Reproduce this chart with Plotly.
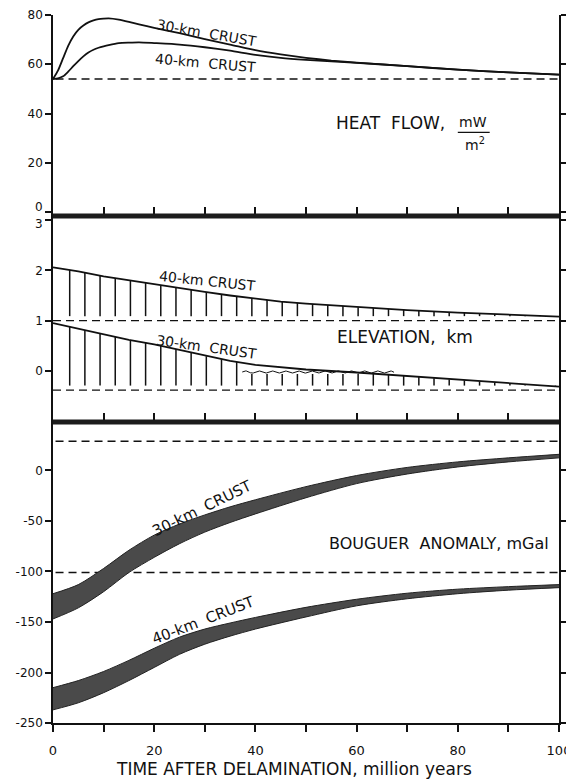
import numpy as np
import plotly.graph_objects as go

# ---------------- data ----------------
# Heat flow, mW/m^2
hf_t = [0, 1, 2, 3, 4, 5, 6, 7, 8, 9, 10, 11, 13, 15, 17, 20, 25, 30, 35, 40, 45, 50, 55, 60, 70, 80, 90, 100]
hf_30km = [54, 57.5, 62.5, 67.5, 71.3, 74, 75.7, 77, 77.8, 78.3, 78.5, 78.6, 78.1, 77.2, 76.2, 74.8, 72.6, 70.2,
           68, 65.7, 64, 62.6, 61.5, 60.7, 59.2, 57.8, 56.7, 55.8]
hf_40km = [54, 54.3, 55.1, 57, 59.2, 61.3, 63.2, 64.8, 65.9, 66.7, 67.3, 67.8, 68.6, 68.8, 68.9, 68.6, 68, 66.9,
           65.5, 63.8, 62.6, 61.8, 61.2, 60.6, 59.2, 57.8, 56.7, 55.8]
hf_ref = 54

# Elevation, km
el_t = [0, 5, 10, 15, 20, 25, 30, 35, 40, 45, 50, 60, 70, 80, 90, 100]
el_40km = [2.06, 1.98, 1.88, 1.80, 1.72, 1.64, 1.57, 1.50, 1.44, 1.38, 1.34, 1.27, 1.21, 1.16, 1.12, 1.08]
el_30km = [0.95, 0.84, 0.72, 0.62, 0.53, 0.42, 0.30, 0.20, 0.12, 0.07, 0.03, -0.03, -0.10, -0.18, -0.25, -0.31]
el_ref_40km = 1.0
el_ref_30km = -0.38
el_hatch_base_40km = 1.09
el_hatch_base_30km = -0.29
sea_level = -0.02
sea_t_start, sea_t_end = 37.4, 67.4

# Bouguer anomaly, mGal
bg_t = [0, 5, 10, 15, 20, 25, 30, 35, 40, 50, 60, 70, 80, 90, 100]
bg30_upper = [-122, -113, -97, -79, -64, -53, -44, -36, -29, -16, -5, 3, 8.5, 12.5, 16]
bg30_lower = [-147, -136, -120, -101, -86, -72.5, -61, -51.5, -43, -27, -13, -3.5, 3.5, 8.5, 12.5]
bg40_upper = [-215, -208, -199, -188, -176, -165, -157, -151, -145.5, -135.5, -127.5, -121.5, -117.5, -115, -113]
bg40_lower = [-237, -230, -220, -208, -195, -182, -172, -164, -157, -145, -134, -127, -122, -118.5, -116]
bg_ref_upper = 29
bg_ref_lower = -101

x_ticks = [0, 20, 40, 60, 80, 100]
x_ticktext = ["0", "20", "40", "60", "80", "100"]
x_inner_ticks = [10, 20, 30, 40, 50, 60, 70, 80, 90]
hf_ticks = [20, 40, 60, 80]
hf_break_tick = 0
el_ticks = [0, 1, 2]
el_break_tick = 3
bg_ticks = [-250, -200, -150, -100, -50, 0]
bg_ticktext = ["-250", "-200", "-150", "-100", "-50", "0"]

# ---------------- figure ----------------
FONT = "DejaVu Sans"
BLACK = "#111111"
fig = go.Figure()

def line(x, y, xa, ya, dash=None, width=1.8):
    fig.add_trace(go.Scatter(x=x, y=y, xaxis=xa, yaxis=ya, mode="lines",
                             line=dict(color=BLACK, width=width, dash=dash),
                             hoverinfo="skip", showlegend=False))

# panel 1: heat flow (top) -> x3/y3
line([0.5, 100], [hf_ref, hf_ref], "x3", "y3", dash="8px,5px", width=1.4)
for series in (hf_30km, hf_40km):
    fig.add_trace(go.Scatter(x=hf_t, y=series, xaxis="x3", yaxis="y3", mode="lines",
                             line=dict(color=BLACK, width=1.8, shape="spline", smoothing=0.6),
                             showlegend=False, hoverinfo="skip"))

# panel 2: elevation -> x2/y2
hatch_t = [3.3 + 3.0 * k for k in range(33)]
line([0, 100], [el_ref_40km, el_ref_40km], "x2", "y2", dash="8px,5px", width=1.4)
line([0, 100], [el_ref_30km, el_ref_30km], "x2", "y2", dash="8px,5px", width=1.4)
line(el_t, el_40km, "x2", "y2")
line(el_t, el_30km, "x2", "y2")
hx, hy = [], []
for t in hatch_t:
    top40 = float(np.interp(t, el_t, el_40km))
    hx += [t, t, None]
    hy += [el_hatch_base_40km, top40, None]
    top30 = float(np.interp(t, el_t, el_30km))
    if sea_t_start <= t <= sea_t_end:
        top30 = min(top30, sea_level - 0.04)
    hx += [t, t, None]
    hy += [el_hatch_base_30km, top30, None]
line(hx, hy, "x2", "y2", width=1.5)
# sea-level wavy symbol
wt = np.linspace(sea_t_start, sea_t_end, 300)
wy = sea_level + 0.022 * np.sin(2 * np.pi * (wt - sea_t_start) / 2.6)
line(wt, wy, "x2", "y2", width=1.0)

# panel 3: Bouguer anomaly -> x/y
line([0.5, 100], [bg_ref_upper, bg_ref_upper], "x", "y", dash="8px,5px", width=1.4)
line([0.5, 100], [bg_ref_lower, bg_ref_lower], "x", "y", dash="8px,5px", width=1.4)
for lo, up in [(bg30_lower, bg30_upper), (bg40_lower, bg40_upper)]:
    fig.add_trace(go.Scatter(x=bg_t, y=lo, mode="lines",
                             line=dict(color="#222222", width=1, shape="spline", smoothing=0.8),
                             showlegend=False, hoverinfo="skip"))
    fig.add_trace(go.Scatter(x=bg_t, y=up, mode="lines",
                             line=dict(color="#222222", width=1, shape="spline", smoothing=0.8),
                             fill="tonexty", fillcolor="#4a4a4a", showlegend=False, hoverinfo="skip"))

# ---------------- layout ----------------
# the page body adds an 8px offset; work in screen pixels
OFF = 8
FIG_W, FIG_H = 574 - OFF, 781 - OFF
TOP, BOT, LEFT, RIGHT = 15, 723, 53, 559   # screen pixels of the plot area
plot_h = BOT - TOP
plot_w = RIGHT - LEFT

def py(p):  # screen pixel y -> paper
    return (BOT - p) / plot_h

def px(p):  # screen pixel x -> paper
    return (p - LEFT) / plot_w

yax = dict(showline=True, linecolor=BLACK, linewidth=1.6, ticks="outside", ticklen=6, tickwidth=1.5,
           tickcolor=BLACK, mirror="ticks", zeroline=False, showgrid=False, automargin=False,
           tickfont=dict(family=FONT, size=12, color=BLACK))
xinner = dict(range=[0, 100], showline=False, ticks="inside", tickvals=x_inner_ticks, ticklen=9,
              tickwidth=1.5, tickcolor=BLACK, showticklabels=False, showgrid=False, zeroline=False,
              automargin=False)

def minor_at(v):
    return dict(tickmode="array", tickvals=[v], ticks="outside", ticklen=6, tickwidth=1.5,
                tickcolor=BLACK, showgrid=False)

fig.update_layout(
    width=FIG_W, height=FIG_H, autosize=False,
    margin=dict(l=LEFT - OFF, r=FIG_W + OFF - RIGHT, t=TOP - OFF, b=FIG_H + OFF - BOT, pad=0,
                autoexpand=False),
    paper_bgcolor="white", plot_bgcolor="white",
    font=dict(family=FONT, color=BLACK),
    xaxis=dict(range=[0, 100], anchor="y", showline=True, linecolor=BLACK, linewidth=1.6,
               ticks="outside", tickvals=x_ticks, ticktext=x_ticktext, ticklen=7, tickwidth=1.5,
               tickcolor=BLACK, showgrid=False, zeroline=False, ticklabelstandoff=8, automargin=False,
               minor=dict(dtick=10, tick0=0, ticks="outside", ticklen=7, tickwidth=1.5,
                          tickcolor=BLACK, showgrid=False),
               tickfont=dict(family=FONT, size=13, color=BLACK)),
    xaxis2=dict(anchor="y2", matches="x", **xinner),
    xaxis3=dict(anchor="y3", matches="x", **xinner),
    yaxis=dict(domain=[0, py(422)], range=[-250, 48], tickvals=bg_ticks, ticktext=bg_ticktext, **yax),
    yaxis2=dict(domain=[py(422), py(216)], range=[-1.013, 3.079], tickvals=el_ticks,
                minor=minor_at(el_break_tick), **yax),
    yaxis3=dict(domain=[py(216), 1], range=[-1.62, 80], tickvals=hf_ticks,
                minor=minor_at(hf_break_tick), **yax),
)

# thick separating bars
for c in (216, 422):
    fig.add_shape(type="rect", xref="paper", yref="paper", x0=0, x1=1, y0=py(c + 2.5), y1=py(c - 2.5),
                  fillcolor="#1c1c1c", line=dict(width=0), layer="above")

def ann(text, x, y, xa, ya, size, angle=0, xanchor="center"):
    fig.add_annotation(text=text, x=x, y=y, xref=xa, yref=ya, showarrow=False, textangle=angle,
                       xanchor=xanchor, yanchor="middle",
                       font=dict(family=FONT, size=size, color=BLACK))

# break labels at the axis break ("0" of heat flow above, "3" of elevation below)
ann(str(hf_break_tick), px(45), py(207), "paper", "paper", 12, xanchor="right")
ann(str(el_break_tick), px(45), py(224), "paper", "paper", 12, xanchor="right")

# heat-flow labels
ann("30-km  CRUST", 30.4, 72.7, "x3", "y3", 14, angle=10)
ann("40-km  CRUST", 30.2, 60.5, "x3", "y3", 14, angle=5)
ann("HEAT  FLOW,", 77.8, 36.3, "x3", "y3", 17, xanchor="right")
ann("mW", 83.0, 36.5, "x3", "y3", 14)
ann("m<sup>2</sup>", 83.4, 27.6, "x3", "y3", 14)
fig.add_shape(type="line", xref="x3", yref="y3", x0=80.0, x1=86.3, y0=32.3, y1=32.3,
              line=dict(color=BLACK, width=1.3))

# elevation labels
ann("40-km CRUST", 30.6, 1.79, "x2", "y2", 14, angle=6)
ann("30-km  CRUST", 30.4, 0.48, "x2", "y2", 14, angle=8)
ann("ELEVATION,  km", 69.5, 0.68, "x2", "y2", 17)

# Bouguer labels
ann("30-km  CRUST", 29.6, -37.5, "x", "y", 15, angle=-26)
ann("40-km  CRUST", 29.8, -148, "x", "y", 15, angle=-21)
ann("BOUGUER  ANOMALY, mGal", 76.3, -72, "x", "y", 16)

# x-axis title (slightly left of centre as in the original)
ann("TIME AFTER DELAMINATION, million years", px(294), py(769), "paper", "paper", 17)

fig.write_html("out.html")
